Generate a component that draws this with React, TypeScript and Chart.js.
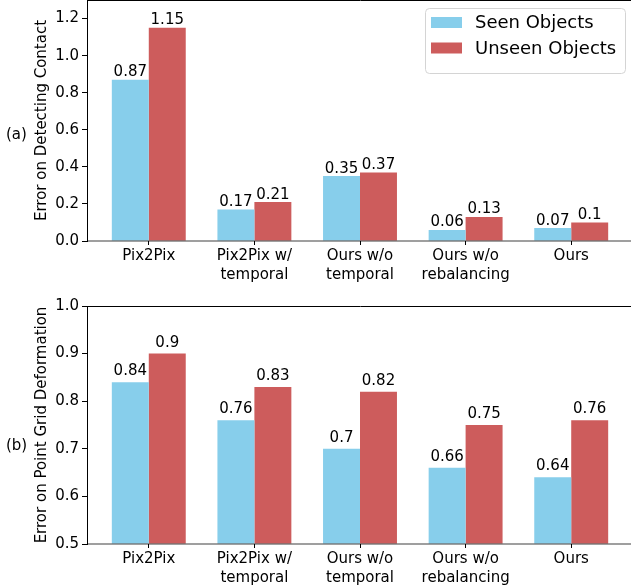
import React, { useEffect, useRef } from "react";
import { Chart, registerables } from "chart.js";

Chart.register(...registerables);

// ---- data ----
const categories: string[][] = [
  ["Pix2Pix"],
  ["Pix2Pix w/", "temporal"],
  ["Ours w/o", "temporal"],
  ["Ours w/o", "rebalancing"],
  ["Ours"],
];
const seriesNames = ["Seen Objects", "Unseen Objects"];
const seriesColors = ["#87CEEB", "#CD5C5C"];

const contactSeen = [0.87, 0.17, 0.35, 0.06, 0.07];
const contactUnseen = [1.15, 0.21, 0.37, 0.13, 0.1];
const contactTicks = [0, 0.2, 0.4, 0.6, 0.8, 1.0, 1.2];

const gridSeen = [0.84, 0.76, 0.7, 0.66, 0.64];
const gridUnseen = [0.9, 0.83, 0.82, 0.75, 0.76];
const gridTicks = [0.5, 0.6, 0.7, 0.8, 0.9, 1.0];

const FONT = "'DejaVu Sans', 'Liberation Sans', sans-serif";

type Spec = {
  seen: number[];
  unseen: number[];
  yMin: number;
  yMax: number;
  yTicks: number[];
  yTitle: string;
  panel: string;
  panelBaseline: number;
  gap: number;
  legend: boolean;
  padTop: number;
  xHeight: number;
};

function buildChart(canvas: HTMLCanvasElement, spec: Spec) {
  const decor = {
    id: "decor",
    afterDatasetsDraw(chart: any) {
      const { ctx, chartArea: a } = chart;
      ctx.save();
      // bottom axis line (gray, over bars)
      ctx.strokeStyle = "rgba(0,0,0,0.5)";
      ctx.lineWidth = 1.6;
      ctx.beginPath();
      ctx.moveTo(a.left, a.bottom);
      ctx.lineTo(a.right + 10, a.bottom);
      ctx.stroke();
      // top spine
      ctx.strokeStyle = "#000";
      ctx.lineWidth = 1;
      ctx.beginPath();
      ctx.moveTo(a.left, a.top + 0.5);
      ctx.lineTo(a.right + 10, a.top + 0.5);
      ctx.stroke();
      // value labels
      ctx.fillStyle = "#000";
      ctx.font = "15px " + FONT;
      ctx.textAlign = "center";
      ctx.textBaseline = "alphabetic";
      chart.data.datasets.forEach((ds: any, di: number) => {
        const meta = chart.getDatasetMeta(di);
        meta.data.forEach((el: any, i: number) => {
          const v = ds.data[i].y;
          ctx.fillText(String(v), el.x, el.y - spec.gap);
        });
      });
      ctx.restore();
    },
    afterDraw(chart: any) {
      const { ctx } = chart;
      ctx.save();
      ctx.fillStyle = "#000";
      ctx.font = "15px " + FONT;
      ctx.textAlign = "left";
      ctx.textBaseline = "alphabetic";
      ctx.fillText(spec.panel, 6, spec.panelBaseline);
      if (spec.legend) {
        const x = 425.5, y = 8.5, w = 200, h = 65, r = 4;
        ctx.beginPath();
        ctx.moveTo(x + r, y);
        ctx.lineTo(x + w - r, y);
        ctx.arcTo(x + w, y, x + w, y + r, r);
        ctx.lineTo(x + w, y + h - r);
        ctx.arcTo(x + w, y + h, x + w - r, y + h, r);
        ctx.lineTo(x + r, y + h);
        ctx.arcTo(x, y + h, x, y + h - r, r);
        ctx.lineTo(x, y + r);
        ctx.arcTo(x, y, x + r, y, r);
        ctx.closePath();
        ctx.fillStyle = "rgba(255,255,255,0.8)";
        ctx.fill();
        ctx.strokeStyle = "#d4d4d4";
        ctx.lineWidth = 1;
        ctx.stroke();
        ctx.font = "18px " + FONT;
        chart.data.datasets.forEach((ds: any, i: number) => {
          const rowY = 17 + i * 25.5;
          ctx.fillStyle = ds.backgroundColor;
          ctx.fillRect(431, rowY, 31, 11);
          ctx.fillStyle = "#000";
          ctx.fillText(ds.label, 475, rowY + 11.2);
        });
      }
      ctx.restore();
    },
  };

  const toPts = (arr: number[]) => arr.map((v, i) => ({ x: i, y: v }));

  return new Chart(canvas, {
    type: "bar",
    data: {
      datasets: [spec.seen, spec.unseen].map((arr, i) => ({
        label: seriesNames[i],
        data: toPts(arr),
        backgroundColor: seriesColors[i],
        borderWidth: 0,
        base: spec.yMin,
        categoryPercentage: 0.7,
        barPercentage: 1.0,
      })),
    },
    options: {
      responsive: false,
      animation: false,
      devicePixelRatio: 1,
      layout: { padding: { top: spec.padTop, left: 0, right: 0, bottom: 0 } },
      plugins: {
        legend: { display: false },
        tooltip: { enabled: false },
      },
      scales: {
        x: {
          type: "linear",
          offset: false,
          min: -0.585,
          max: 4.585,
          afterBuildTicks: (s: any) => {
            s.ticks = categories.map((_, i) => ({ value: i }));
          },
          afterFit: (s: any) => {
            s.height = spec.xHeight;
            s.paddingLeft = 0;
            s.paddingRight = 0;
          },
          grid: {
            offset: false,
            drawOnChartArea: false,
            drawTicks: true,
            tickLength: 4,
            color: "#000",
            lineWidth: 1,
          },
          border: { display: false },
          ticks: {
            autoSkip: false,
            maxRotation: 0,
            minRotation: 0,
            padding: 1.5,
            color: "#000",
            font: { family: FONT, size: 15, lineHeight: 1.27 },
            callback: (v: any) => categories[Math.round(Number(v))] ?? "",
          },
        },
        y: {
          type: "linear",
          min: spec.yMin,
          max: spec.yMax,
          afterBuildTicks: (s: any) => {
            s.ticks = spec.yTicks.map((v) => ({ value: v }));
          },
          afterFit: (s: any) => {
            s.width = 87;
            s.paddingTop = 0;
            s.paddingBottom = 0;
          },
          grid: {
            drawOnChartArea: false,
            drawTicks: true,
            tickLength: 5,
            color: "#000",
            lineWidth: 1,
          },
          border: { display: true, color: "#000", width: 1 },
          ticks: {
            padding: 3,
            color: "#000",
            font: { family: FONT, size: 15 },
            callback: (v: any) => Number(v).toFixed(1),
          },
          title: {
            display: true,
            text: spec.yTitle,
            color: "#000",
            font: { family: FONT, size: 15 },
            padding: { top: 33, bottom: 0 },
          },
        },
      },
    },
    plugins: [decor],
  } as any);
}

export default function App() {
  const topRef = useRef<HTMLCanvasElement>(null);
  const botRef = useRef<HTMLCanvasElement>(null);

  useEffect(() => {
    const c1 = buildChart(topRef.current!, {
      seen: contactSeen,
      unseen: contactUnseen,
      yMin: 0,
      yMax: 1.3,
      yTicks: contactTicks,
      yTitle: "Error on Detecting Contact",
      panel: "(a)",
      panelBaseline: 138.5,
      gap: 3.5,
      legend: true,
      padTop: 0,
      xHeight: 49,
    });
    const c2 = buildChart(botRef.current!, {
      seen: gridSeen,
      unseen: gridUnseen,
      yMin: 0.5,
      yMax: 1.0,
      yTicks: gridTicks,
      yTitle: "Error on Point Grid Deformation",
      panel: "(b)",
      panelBaseline: 159.5,
      gap: 7,
      legend: false,
      padTop: 16,
      xHeight: 43,
    });
    return () => {
      c1.destroy();
      c2.destroy();
    };
  }, []);

  return (
    <div
      style={{
        position: "absolute",
        left: 0,
        top: 0,
        width: 631,
        height: 587,
        overflow: "hidden",
        background: "#fff",
      }}
    >
      <canvas
        ref={topRef}
        width={633}
        height={290}
        style={{ position: "absolute", left: 0, top: 0, width: 633, height: 290 }}
      />
      <canvas
        ref={botRef}
        width={633}
        height={297}
        style={{ position: "absolute", left: 0, top: 290, width: 633, height: 297 }}
      />
    </div>
  );
}
